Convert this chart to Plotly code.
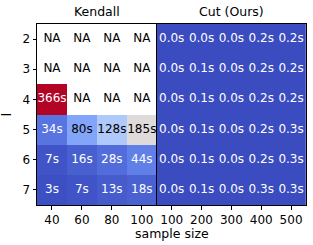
import plotly.graph_objects as go

l_values = [2, 3, 4, 5, 6, 7]
kendall_sizes = [40, 60, 80, 100]
cut_sizes = [100, 200, 300, 400, 500]

kendall_times = [
    [None, None, None, None],
    [None, None, None, None],
    [366, None, None, None],
    [34, 80, 128, 185],
    [7, 16, 28, 44],
    [3, 7, 13, 18],
]
cut_times = [
    [0.0, 0.0, 0.0, 0.2, 0.2],
    [0.0, 0.1, 0.0, 0.2, 0.2],
    [0.0, 0.1, 0.0, 0.2, 0.2],
    [0.0, 0.1, 0.0, 0.2, 0.3],
    [0.0, 0.1, 0.0, 0.2, 0.3],
    [0.0, 0.1, 0.0, 0.3, 0.3],
]

titles = ["Kendall", "Cut (Ours)"]

coolwarm_hex = ["#3b4cc0", "#5977e3", "#7b9ff9", "#9ebeff", "#c0d4f5", "#dddcdc",
                "#f2cbb7", "#f7ac8e", "#ee8468", "#d65244", "#b40426"]
coolwarm = [[i / 10, c] for i, c in enumerate(coolwarm_hex)]
ZMIN, ZMAX = 0, 366
FONT = "DejaVu Sans"


def cell_text(v, fmt):
    return "NA" if v is None else fmt.format(v)


def text_color(v):
    if v is None:
        return "black"
    t = (v - ZMIN) / (ZMAX - ZMIN)
    return "black" if 0.18 < t < 0.82 else "white"


fig = go.Figure()

panels = [
    (kendall_sizes, kendall_times, "{:d}s", "x", "y"),
    (cut_sizes, cut_times, "{:.1f}s", "x2", "y2"),
]
for sizes, z, fmt, xa, ya in panels:
    fig.add_trace(go.Heatmap(
        x=sizes, y=l_values, z=z, colorscale=coolwarm, zmin=ZMIN, zmax=ZMAX,
        showscale=False, xaxis=xa, yaxis=ya, hoverinfo="skip",
    ))
    xs, ys, txt, cols = [], [], [], []
    for i, l in enumerate(l_values):
        for j, s in enumerate(sizes):
            v = z[i][j]
            xs.append(s)
            ys.append(l)
            txt.append(cell_text(v, fmt))
            cols.append(text_color(v))
    fig.add_trace(go.Scatter(
        x=xs, y=ys, text=txt, mode="text", xaxis=xa, yaxis=ya,
        textfont=dict(family=FONT, size=12, color=cols),
        hoverinfo="skip", showlegend=False,
    ))

split = 121 / 271.7
axis_common = dict(showline=True, linecolor="black", linewidth=1, mirror=True,
                   ticks="outside", ticklen=3.5, tickcolor="black",
                   showgrid=False, zeroline=False,
                   tickfont=dict(family=FONT, size=12, color="black"))

fig.update_layout(
    width=313, height=245,
    margin=dict(l=35, r=6, t=24, b=40),
    paper_bgcolor="white", plot_bgcolor="white",
    showlegend=False,
    font=dict(family=FONT, color="black"),
    xaxis=dict(domain=[0, split], range=[30, 110], tickvals=kendall_sizes,
               anchor="y", **axis_common),
    xaxis2=dict(domain=[split, 1], range=[50, 550], tickvals=cut_sizes,
                anchor="y2", **axis_common),
    yaxis=dict(domain=[0, 1], range=[7.5, 1.5], tickvals=l_values, anchor="x",
               title=dict(text="l", font=dict(family=FONT, size=12), standoff=8),
               **axis_common),
    yaxis2=dict(domain=[0, 1], range=[7.5, 1.5], anchor="x2",
                showticklabels=False, ticks="", showline=True, linecolor="black",
                linewidth=1, mirror=True, showgrid=False, zeroline=False),
)

for xr, t in zip(["x domain", "x2 domain"], titles):
    fig.add_annotation(text=t, xref=xr, yref="paper", x=0.5, y=1, yanchor="bottom",
                       yshift=3, showarrow=False,
                       font=dict(family=FONT, size=12.5, color="black"))
fig.add_annotation(text="sample size", xref="paper", yref="paper", x=0.5, y=0,
                   yanchor="top", yshift=-19, showarrow=False,
                   font=dict(family=FONT, size=12.5, color="black"))

fig.write_html("out.html", config={"displayModeBar": False},
               post_script="document.body.style.margin='0';")
